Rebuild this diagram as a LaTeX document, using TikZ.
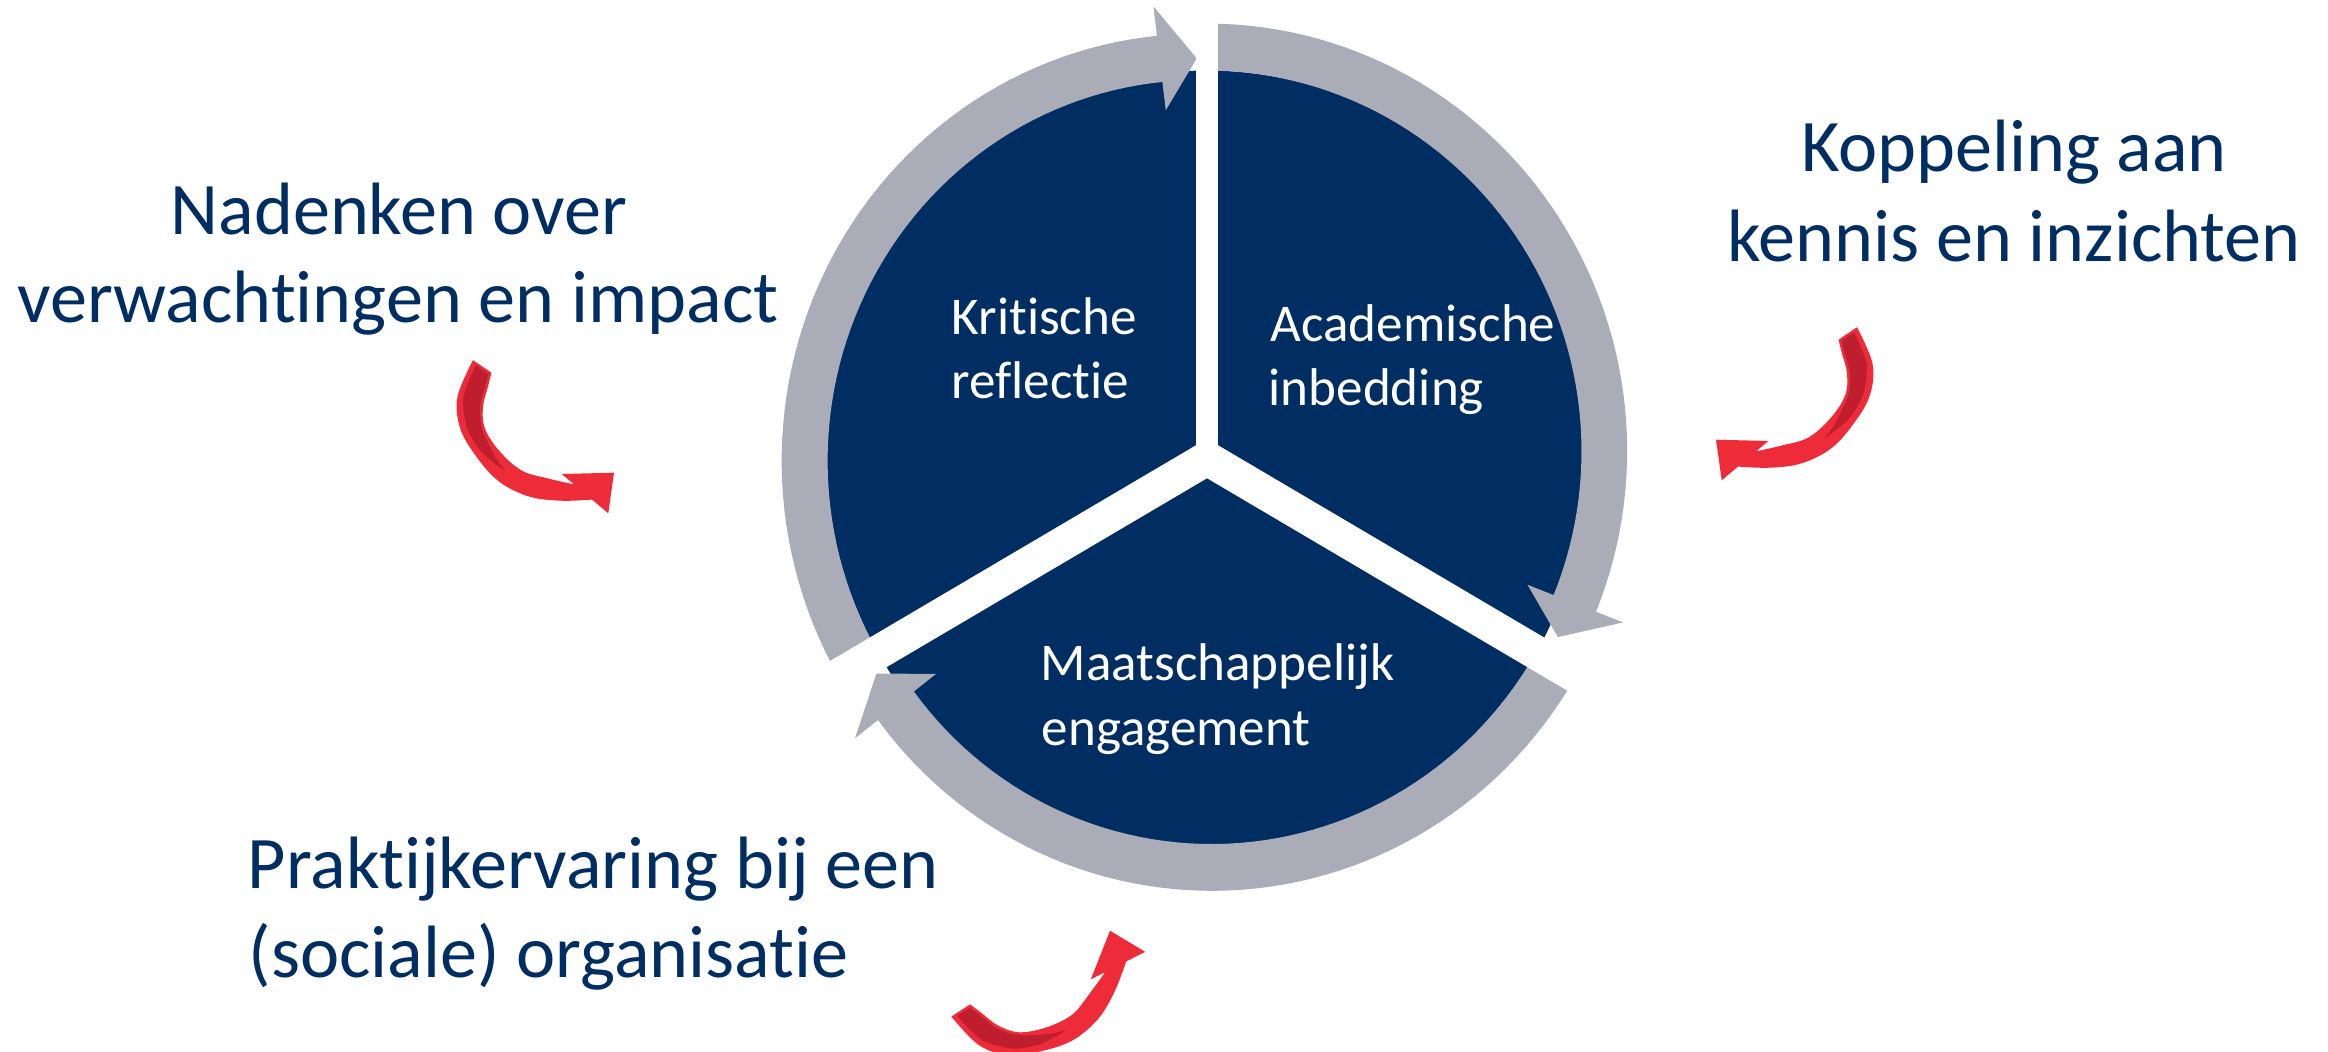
\documentclass[tikz,border=0pt]{standalone}
\usepackage{fontspec}
\setmainfont{Carlito}[Ligatures=NoCommon]
\definecolor{navy}{RGB}{0,45,98}
\definecolor{ringgrey}{RGB}{170,172,184}
\definecolor{redlight}{RGB}{237,43,57}
\definecolor{reddark}{RGB}{190,30,45}
\begin{document}
\begin{tikzpicture}[x=0.01cm,y=0.01cm,
  outertext/.style={inner sep=0pt, text=navy, font=\fontsize{21.1pt}{25pt}\selectfont},
  innertext/.style={inner sep=0pt, text=white, font=\fontsize{15.1pt}{18pt}\selectfont, anchor=base west},
  gapband/.style={white, line cap=butt},
  redarrow/.pic={
    \fill[redlight] plot[smooth, tension=0.6] coordinates {(-141,112.5) (-156.5,76) (-154,45) (-139,18) (-116,-8) (-86,-23.5) (-54,-28) (-22,-26.9)}
      -- (-5.7,-40.6) -- (0,0) -- (-52.3,-1.3) -- (-40,-11.7)
      -- plot[smooth, tension=0.6] coordinates {(-40,-11.7) (-65,-6) (-92,2) (-114,21) (-129,44) (-131,66) (-126,86) (-122.5,100)} -- cycle;
    \fill[reddark] plot[smooth] coordinates {(-138,107.5) (-150.5,76) (-147,45) (-132,20) (-108,1)}
      -- plot[smooth] coordinates {(-108,1) (-119,16) (-132,44) (-134,66) (-129,86) (-125.5,98.5)} -- cycle;
  }
]
\useasboundingbox (0,0) rectangle (2328,-1052);

\begin{scope}[shift={(1207,-458.5)}, yscale=1.021]
  \fill[navy] (0,0) circle[radius=380];
  \foreach \ta/\tb/\tp in {210/96.9/91.5, 90/-21.1/-26.5, 330/217.9/212.5} {
    \fill[ringgrey]
      plot[domain=\ta:\tb, samples=60] (\x:{426-9*((\ta-(\x))/(\ta-(\tb)))^2})
      -- (\tb:446) -- (\tp:392) -- (\tb:343.5)
      -- plot[domain=\tb:\ta, samples=60] (\x:{380-8.5*((\ta-(\x))/(\ta-(\tb)))^2})
      -- cycle;
  }
  \draw[gapband, line width=0.22cm] (0,0) -- (90:490);
  \draw[gapband, line width=0.34cm] (0,0) -- (210:490);
  \draw[gapband, line width=0.34cm] (0,0) -- (330:490);
  \fill[white] (0,0) circle[radius=15];
\end{scope}

\node[innertext] (s1a) at (951,-335) {Kritische};
\node[innertext] (s1b) at (951,-399) {reflectie};
\node[innertext] (s2a) at (1270,-342) {Academische};
\node[innertext] (s2b) at (1268,-406) {inbedding};
\node[innertext] (s3a) at (1040,-680) {Maatschappelijk};
\node[innertext] (s3b) at (1041,-745) {engagement};

\node[outertext, anchor=base] (t1a) at (399,-235) {Nadenken over};
\node[outertext, anchor=base] (t1b) at (398,-323) {verwachtingen en impact};
\node[outertext, anchor=base] (t2a) at (2014,-172) {Koppeling aan};
\node[outertext, anchor=base] (t2b) at (2014,-262) {kennis en inzichten};
\node[outertext, anchor=base west] (t3a) at (247,-888) {Praktijkervaring bij een};
\node[outertext, anchor=base west] (t3b) at (248,-977) {(sociale) organisatie};

\pic (ra) at (614,-472.7) {redarrow};
\pic[xscale=-1] (rb) at (1716,-439.7) {redarrow};
\pic[rotate=67] (rc) at (1110,-930.7) {redarrow};
\end{tikzpicture}
\end{document}
